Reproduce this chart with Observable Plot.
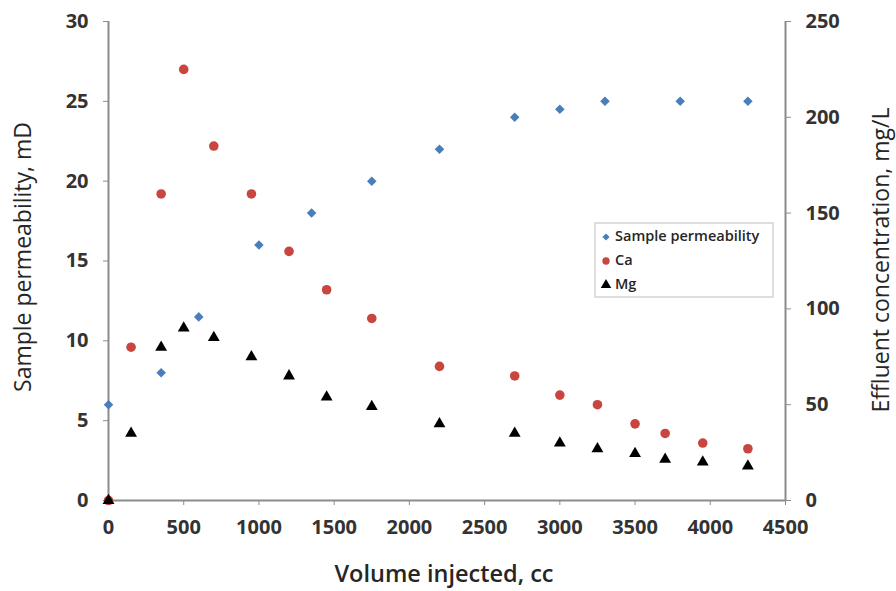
<!DOCTYPE html>
<html><head><meta charset="utf-8">
<script src="https://cdn.jsdelivr.net/npm/d3@7"></script>
<script src="https://cdn.jsdelivr.net/npm/@observablehq/plot@0.6"></script>
<style>
body{margin:0;background:#fff}
#chart{position:relative;width:896px;height:591px}
svg g[aria-label="x-axis tick label"] text, svg g[aria-label="y-axis tick label"] text{font-weight:700}
</style>
</head><body><div id="chart"></div>
<script>
// Sample permeability (mD) vs volume injected (cc)
const permVolume = [0, 350, 600, 1000, 1350, 1750, 2200, 2700, 3000, 3300, 3800, 4250];
const permeability = [6, 8, 11.5, 16, 18, 20, 22, 24, 24.5, 25, 25, 25];
// Effluent concentrations (mg/L)
const ionVolume = [0, 150, 350, 500, 700, 950, 1200, 1450, 1750, 2200, 2700, 3000, 3250, 3500, 3700, 3950, 4250];
const caConc = [0, 80, 160, 225, 185, 160, 130, 110, 95, 70, 65, 55, 50, 40, 35, 30, 27];
const mgConc = [0, 35, 80, 90, 85, 75, 65, 54, 49, 40, 35, 30, 27, 24.5, 21.5, 20, 18];
// Axis ticks
const xTicks = [0, 500, 1000, 1500, 2000, 2500, 3000, 3500, 4000, 4500];
const leftTicks = [0, 5, 10, 15, 20, 25, 30];
const rightTicks = [0, 50, 100, 150, 200, 250];
const seriesNames = ["Sample permeability", "Ca", "Mg"];
const colors = ["#4a7ebb", "#c9453f", "#000000"];

const leftMax = 30, rightMax = 250;
const k = leftMax / rightMax;

const permData = permVolume.map((v, i) => ({v, y: permeability[i]}));
const caData = ionVolume.map((v, i) => ({v, y: caConc[i] * k}));
const mgData = ionVolume.map((v, i) => ({v, y: mgConc[i] * k}));

const font = "'Open Sans', sans-serif";
const axisGray = "#8c8c8c";
const textColor = "#333333";

const plot = Plot.plot({
  width: 896, height: 591,
  marginLeft: 108, marginRight: 111, marginTop: 21, marginBottom: 91,
  style: {fontFamily: font, background: "#fff", overflow: "visible"},
  x: {domain: [0, 4500]},
  y: {domain: [0, leftMax]},
  marks: [
    Plot.axisX({ticks: xTicks, tickSize: 5, tickPadding: 14, fontSize: 20, label: null, stroke: axisGray, fill: textColor, tickFormat: d => String(d)}),
    Plot.axisY({anchor: "left", ticks: leftTicks, tickSize: 5, tickPadding: 15, fontSize: 20, label: null, stroke: axisGray, fill: textColor}),
    Plot.axisY({anchor: "right", ticks: rightTicks.map(t => t * k), tickSize: 5, tickPadding: 15, fontSize: 20, label: null, stroke: axisGray, fill: textColor, tickFormat: d => String(Math.round(d / k))}),
    Plot.ruleX([0, 4500], {stroke: axisGray, strokeWidth: 2}),
    Plot.ruleY([0], {stroke: axisGray, strokeWidth: 2}),
    Plot.dot(permData, {x: "v", y: "y", symbol: "diamond2", fill: colors[0], r: 4.3, stroke: "none"}),
    Plot.dot(caData, {x: "v", y: "y", symbol: "circle", fill: colors[1], r: 4.8, stroke: "none"}),
    Plot.dot(mgData, {x: "v", y: "y", symbol: "triangle", fill: colors[2], r: 4.4, stroke: "none"})
  ]
});

document.getElementById("chart").appendChild(plot);
const svg = d3.select(plot);

// Axis titles
svg.append("text").attr("x", 444).attr("y", 582).attr("text-anchor", "middle")
  .attr("font-family", font).attr("font-size", 23.5).attr("font-weight", 600).attr("fill", "#262626")
  .text("Volume injected, cc");
svg.append("text").attr("transform", "translate(25,257) rotate(-90)").attr("text-anchor", "middle")
  .attr("dominant-baseline", "middle")
  .attr("font-family", font).attr("font-size", 23).attr("font-weight", 500).attr("fill", "#262626")
  .text("Sample permeability, mD");
svg.append("text").attr("transform", "translate(883,260) rotate(-90)").attr("text-anchor", "middle")
  .attr("dominant-baseline", "middle")
  .attr("font-family", font).attr("font-size", 23).attr("font-weight", 500).attr("fill", "#262626")
  .text("Effluent concentration, mg/L");

// Legend
const lg = svg.append("g").attr("transform", "translate(595,223)");
lg.append("rect").attr("width", 178).attr("height", 74).attr("fill", "#fff").attr("stroke", "#d4d4d4").attr("stroke-width", 1.5);
const symbols = [d3.symbolSquare, d3.symbolCircle, d3.symbolTriangle];
const sizes = [26, 42, 48];
seriesNames.forEach((name, i) => {
  const y = 14 + i * 24;
  lg.append("path").attr("d", d3.symbol(symbols[i], sizes[i])()).attr("fill", colors[i])
    .attr("transform", `translate(11,${y})` + (i === 0 ? " rotate(45)" : ""));
  lg.append("text").attr("x", 20).attr("y", y).attr("dominant-baseline", "middle").attr("text-anchor", "start")
    .attr("font-family", font).attr("font-size", 14.5).attr("font-weight", 600).attr("fill", "#262626")
    .text(name);
});
</script>
</body></html>
